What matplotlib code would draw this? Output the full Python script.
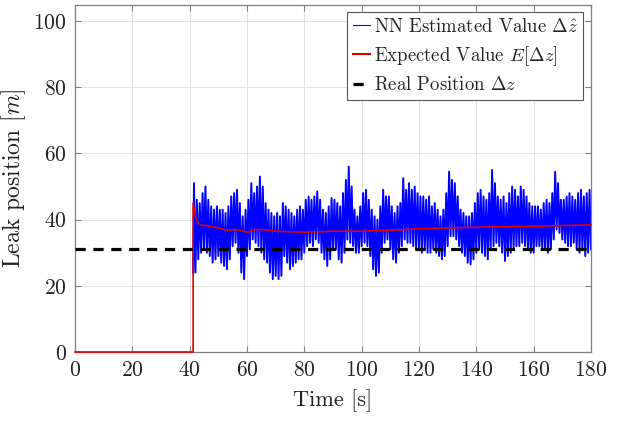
import matplotlib
matplotlib.use("Agg")
import matplotlib.pyplot as plt
from matplotlib.lines import Line2D

plt.rcParams['font.family'] = 'serif'
plt.rcParams['font.serif'] = ['cmr10', 'DejaVu Serif']
plt.rcParams['mathtext.fontset'] = 'cm'
plt.rcParams['axes.unicode_minus'] = False
plt.rcParams['axes.formatter.use_mathtext'] = True

# ---- data ----
# NN estimate: envelope readings (lows at integer seconds, highs at half seconds)
t_hi_start = 41.5
t_lo_start = 42.0
nn_hi = [51, 46, 45, 48, 50, 46, 44, 43, 44, 43,
         43, 42, 44, 47, 48, 49, 45, 41, 43, 46,
         51, 48, 50, 53, 50, 45, 43, 42, 41, 42,
         41, 45, 44, 43, 42, 41, 43, 44, 43, 46,
         47, 46, 47, 48.5, 46, 43, 42, 44, 46.5, 46,
         45, 44, 48, 52, 56, 50, 43, 41, 44, 48,
         49, 46, 43, 41, 40, 44, 49, 47, 47, 44,
         42, 44, 45, 52.5, 49, 51, 49, 50, 48, 47,
         47, 46, 47, 44, 45, 43, 41, 43, 48, 54.5,
         52, 51, 47, 43, 42, 41, 41, 42, 45, 48,
         49, 47, 46, 48, 55, 51, 47, 46, 47, 45,
         48, 50, 49, 47, 50, 49, 47, 45, 44, 44,
         44, 43, 45, 46, 45, 48, 54.5, 51, 46, 46,
         47, 48, 47, 46, 48, 49, 47, 48, 49]
nn_lo = [24, 28, 30, 31, 30, 29, 27, 28, 29, 27,
         26, 25, 28, 32, 33, 30, 24, 22, 29, 31,
         34, 33, 32, 30, 28, 27, 24, 22, 23, 22,
         23, 29, 27, 25, 26, 27, 28, 28, 30, 32,
         33, 32, 34, 33, 30, 28, 26, 28, 31, 31,
         28, 27, 30, 34, 33, 32, 30, 30, 32, 33,
         32, 29, 25, 23, 24, 30, 33, 34, 31, 28,
         27, 30, 32, 34, 33, 33, 32, 31, 31, 30,
         31, 30, 30, 31, 30, 29, 28, 29, 32, 35,
         35, 34, 32, 30, 29, 27, 26.5, 28, 30, 31,
         30, 29, 28, 31, 32, 33, 32, 30, 27.5, 29,
         30, 31, 32, 32, 33, 32, 31, 30, 30, 32,
         32, 31, 31, 30, 31, 34, 37, 36, 34, 33,
         32, 32, 33, 31, 30, 31, 29, 30, 31]

# Expected value
t_exp = [0, 41.2, 41.2, 42, 43, 44, 46, 50, 53, 56, 60, 63, 66, 70,
         80, 90, 100, 110, 120, 130, 140, 150, 160, 170, 180]
v_exp = [0, 0, 45, 41, 39, 38.3, 38.2, 37.5, 36.8, 37.0, 36.2, 37.0, 37.0, 36.5,
         36.2, 36.5, 36.5, 36.8, 37.2, 37.5, 37.7, 37.9, 38.0, 38.2, 38.4]

# Real position
t_real = [0, 180]
v_real = [31, 31]

x_ticks = [0, 20, 40, 60, 80, 100, 120, 140, 160, 180]
y_ticks = [0, 20, 40, 60, 80, 100]

# ---- build NN trace: interleave lows and highs ----
t_nn, v_nn = [41.2], [nn_lo[0]]
for k in range(len(nn_hi)):
    t_nn.append(t_hi_start + k); v_nn.append(nn_hi[k])
    t_nn.append(t_lo_start + k); v_nn.append(nn_lo[k])

fig = plt.figure(figsize=(6.18, 4.29), dpi=100)
ax = fig.add_axes([0.1214, 0.1795, 0.8349, 0.81])

ax.plot(t_nn, v_nn, color='#0000ff', lw=1.4, zorder=2)
ax.plot(t_exp, v_exp, color='#e00000', lw=1.2, zorder=3, clip_on=False)
ax.plot(t_real, v_real, color='black', lw=2.3, linestyle=(0, (3.2, 2.4)), zorder=4)

ax.set_xlim(0, 180)
ax.set_ylim(0, 105)
ax.set_xticks(x_ticks)
ax.set_yticks(y_ticks)
ax.grid(True, color='#e3e3e3', lw=0.7)
ax.set_axisbelow(True)
ax.tick_params(direction='in', length=4, top=True, right=True, labelsize=15.5,
               colors='#808080', labelcolor='#222222', width=0.8)
ax.tick_params(axis='x', pad=6)
ax.tick_params(axis='y', pad=6)
for s in ax.spines.values():
    s.set_color('#808080')
    s.set_linewidth(0.9)

ax.set_xlabel('Time [s]', fontsize=16, color='#222222', labelpad=7)
ax.set_ylabel(r'Leak position $[m]$', fontsize=17, color='#222222', labelpad=4)

handles = [Line2D([], [], color='#0000ff', lw=0.8),
           Line2D([], [], color='#e00000', lw=1.5),
           Line2D([], [], color='black', lw=2.3, linestyle=(0, (3.2, 2.4)))]
labels = [r'NN Estimated Value $\Delta\hat{z}$',
          r'Expected Value $E[\Delta z]$',
          r'Real Position $\Delta z$']
leg = ax.legend(handles, labels, loc='upper right', fontsize=13.5, handlelength=0.9,
                handletextpad=0.2, labelspacing=0.45, borderpad=0.3,
                borderaxespad=0.4, fancybox=False, framealpha=1)
leg.get_frame().set_edgecolor('#555555')
leg.get_frame().set_linewidth(0.8)
for t in leg.get_texts():
    t.set_color('#222222')

fig.savefig('out.png', dpi=100)
